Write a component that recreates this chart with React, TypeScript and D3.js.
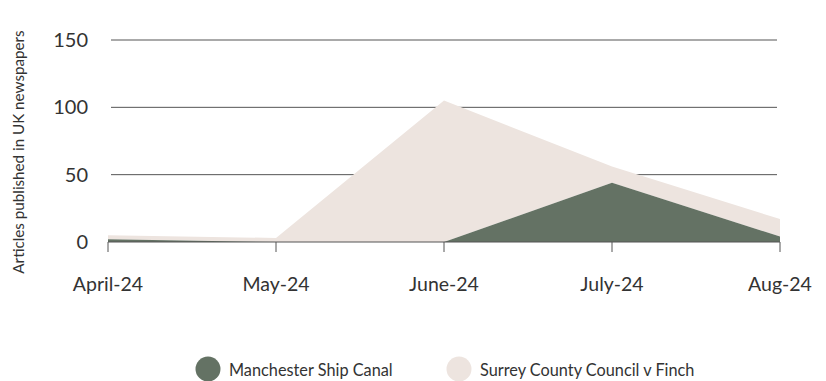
import React from "react";
import * as d3 from "d3";

const months = ["April-24", "May-24", "June-24", "July-24", "Aug-24"];
const manchester = [2, 0, 0, 44, 4];
const surrey = [3, 3, 105, 12, 13];
const seriesNames = ["Manchester Ship Canal", "Surrey County Council v Finch"];
const seriesColors = ["#647264", "#EDE4DF"];
const yTicks = [0, 50, 100, 150];

export default function App() {
  const W = 826, H = 381;
  const x = d3.scalePoint<string>().domain(months).range([108, 780]);
  const y = d3.scaleLinear().domain([0, 150]).range([242, 40]);
  const rows = months.map((m, i) => ({ m, a: manchester[i], b: surrey[i] }));
  const stack = d3.stack<any>().keys(["a", "b"])(rows);
  const area = d3
    .area<any>()
    .x((d) => x(d.data.m)!)
    .y0((d) => y(d[0]))
    .y1((d) => y(d[1]));
  const font = "Lato, 'Open Sans', sans-serif";
  return (
    <svg width={W} height={H} style={{ position: "absolute", left: 0, top: 0 }} fontFamily={font}>
      {yTicks.filter((t) => t > 0).map((t) => (
        <line key={t} x1={111} x2={777} y1={y(t)} y2={y(t)} stroke="#555" strokeWidth={1} />
      ))}
      {[...stack].reverse().map((s, i) => (
        <path key={i} d={area(s as any)!} fill={seriesColors[stack.length - 1 - i]} />
      ))}
      <line x1={108} x2={780} y1={y(0)} y2={y(0)} stroke="#555" strokeWidth={1} />
      {months.map((m) => (
        <g key={m}>
          <line x1={x(m)} x2={x(m)} y1={y(0)} y2={y(0) + 10} stroke="#555" />
          <text x={x(m)} y={291} textAnchor="middle" fontSize={19.5} fill="#333">{m}</text>
        </g>
      ))}
      {yTicks.map((t) => (
        <text key={t} x={88} y={y(t) + 7} textAnchor="end" fontSize={20} fill="#333">{t}</text>
      ))}
      <text transform={`translate(24,152) rotate(-90)`} textAnchor="middle" fontSize={15.2} fill="#333">
        Articles published in UK newspapers
      </text>
      {seriesNames.map((n, i) => {
        const cx = i === 0 ? 208 : 459;
        return (
          <g key={n}>
            <circle cx={cx} cy={369} r={12.5} fill={seriesColors[i]} />
            <text x={cx + 21} y={376} fontSize={16.3} fill="#333">{n}</text>
          </g>
        );
      })}
    </svg>
  );
}
